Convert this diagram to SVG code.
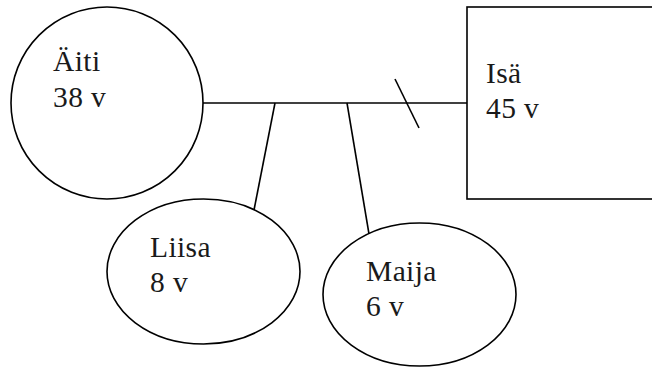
<svg xmlns="http://www.w3.org/2000/svg" width="652" height="367" viewBox="0 0 652 367">
<style>
.s{fill:#fff;stroke:#000;stroke-width:1.6}
.l{stroke:#000;stroke-width:1.6;fill:none}
.t{font-family:'Liberation Serif','Times New Roman',serif;font-size:29.5px;fill:#1a1a1a;letter-spacing:0.4px}
</style>
<rect width="652" height="367" fill="#fff"/>
<g id="connectors">
<line class="l" x1="203" y1="103" x2="467" y2="103"/>
<line class="l" x1="395" y1="79" x2="419" y2="128"/>
<line class="l" x1="275" y1="103" x2="254" y2="210"/>
<line class="l" x1="347" y1="103" x2="369" y2="234"/>
</g>
<g id="aiti">
<circle class="s" cx="107" cy="103" r="96"/>
<text class="t" x="53" y="71">Äiti</text>
<text class="t" x="53" y="107">38 v</text>
</g>
<g id="isa">
<rect class="s" x="467" y="7" width="200" height="192"/>
<text class="t" x="486" y="83">Isä</text>
<text class="t" x="486" y="118">45 v</text>
</g>
<g id="liisa">
<ellipse class="s" cx="203.5" cy="271.5" rx="96.5" ry="72.5"/>
<text class="t" x="150" y="257">Liisa</text>
<text class="t" x="150" y="292">8 v</text>
</g>
<g id="maija">
<ellipse class="s" cx="419.5" cy="294.5" rx="96.5" ry="71.5"/>
<text class="t" x="366" y="281">Maija</text>
<text class="t" x="366" y="316">6 v</text>
</g>
</svg>
